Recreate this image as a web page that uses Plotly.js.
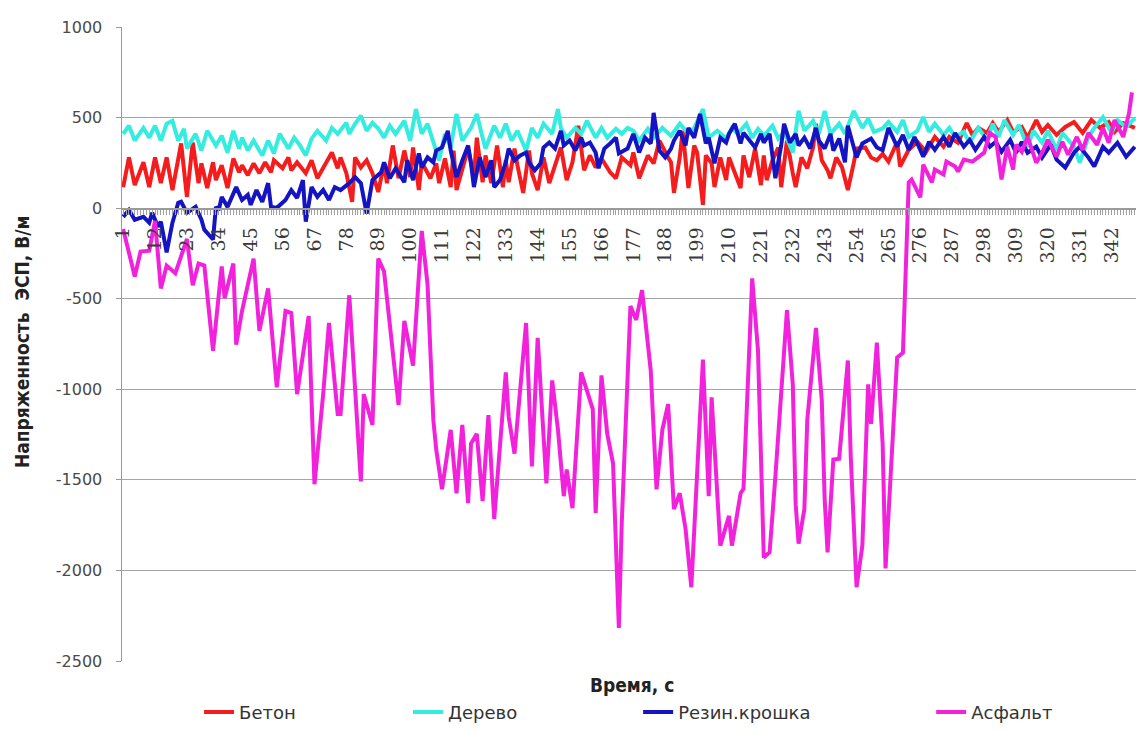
<!DOCTYPE html>
<html>
<head>
<meta charset="utf-8">
<script src="https://cdn.plot.ly/plotly-3.0.1.min.js"></script>
<style>html,body{margin:0;padding:0;background:#fff;}#chart{width:1136px;height:731px;}</style>
</head>
<body>
<div id="chart"></div>
<script>
// Series names
const seriesNames = ["Бетон", "Дерево", "Резин.крошка", "Асфальт"];

// Бетон (red)
const betonTime = [1,3,5,8,10,12,14,16,18,21,23,25,27,28,30,32,33,35,37,39,41,42,44,46,48,50,52,53,56,58,59,61,64,66,68,71,73,75,76,78,80,81,83,85,87,89,91,92,94,96,98,100,101,103,104,107,109,110,112,114,115,116,118,120,122,123,125,126,128,129,130,132,133,134,136,137,139,141,142,144,146,148,150,152,154,156,158,160,162,164,166,169,171,173,176,177,179,182,184,186,189,190,191,193,194,196,198,199,201,202,204,205,207,209,210,212,214,215,217,219,221,222,223,225,227,228,230,232,233,235,237,239,240,242,244,245,247,249,251,253,254,257,259,261,263,265,268,269,272,275,278,281,284,286,289,292,294,296,299,301,303,306,308,311,313,316,318,320,323,326,329,332,335,338,341,343,346,350];
const betonValue = [116,280,127,253,116,280,138,280,100,357,62,362,138,247,111,253,155,237,111,274,198,237,182,247,193,253,198,264,220,280,209,253,193,264,165,253,307,220,280,193,35,280,225,264,193,89,247,138,346,165,318,171,335,100,253,165,247,138,274,116,318,100,225,329,171,389,143,291,138,264,346,116,264,143,329,237,84,318,193,100,280,138,237,335,155,253,455,209,291,225,274,198,165,280,237,307,165,291,247,373,280,253,84,280,427,111,346,307,18,291,247,116,280,155,280,193,111,291,171,329,127,291,155,264,335,116,373,193,116,280,220,335,466,264,209,165,280,225,100,247,329,335,280,264,300,257,366,230,322,366,311,393,339,393,361,470,404,443,415,470,421,486,421,448,388,486,421,459,404,448,475,415,486,443,475,421,470,443];

// Дерево (cyan)
const derevoTime = [1,3,5,8,10,12,14,16,18,20,22,23,26,28,30,33,35,37,39,41,42,44,46,49,51,53,55,58,60,62,64,66,68,71,73,75,78,79,81,83,85,87,89,91,93,95,98,100,102,104,106,108,110,112,114,116,118,121,123,125,126,129,131,133,135,137,140,142,144,146,149,151,152,154,157,159,161,164,166,168,171,173,175,177,179,182,184,187,190,193,196,198,201,203,206,209,211,213,216,218,220,222,225,227,229,232,234,236,239,241,243,245,248,250,253,256,258,260,263,265,268,270,272,275,277,279,281,284,286,288,291,293,296,299,301,303,305,308,310,313,315,318,320,323,325,329,331,334,336,339,342,344,347,350];
const derevoValue = [410,455,373,443,389,455,373,466,482,373,438,329,410,318,427,346,400,307,427,329,389,318,373,291,373,302,410,329,389,346,291,384,427,373,443,410,471,410,466,510,427,471,440,389,455,410,482,373,547,410,466,373,264,410,335,520,373,443,520,389,329,455,389,466,373,427,318,443,389,466,410,547,443,389,443,410,482,389,443,389,438,410,443,427,373,438,389,443,400,466,410,443,547,389,427,384,443,410,466,389,438,400,455,384,421,307,537,427,482,410,537,410,466,410,537,443,493,421,440,475,421,486,393,427,503,421,466,404,443,393,421,361,443,377,466,393,486,404,459,339,427,361,427,322,415,339,251,393,443,503,415,486,448,497];

// Резин.крошка (blue)
const rezinTime = [1,3,5,8,10,11,13,14,16,18,20,21,23,26,28,29,32,33,34,35,37,40,42,44,45,47,49,51,52,54,57,59,61,63,64,66,68,70,72,74,76,79,81,83,85,87,90,91,93,95,98,99,101,103,104,106,108,109,111,113,114,116,118,120,121,122,124,126,128,129,131,133,134,136,138,140,141,143,145,146,148,150,152,153,155,157,159,160,162,164,165,167,169,171,172,175,177,179,181,183,184,186,188,190,191,193,195,196,198,200,202,203,205,207,209,210,212,214,215,217,219,221,222,224,226,228,229,231,233,234,236,238,240,241,243,245,246,248,250,251,253,254,256,259,261,263,265,268,270,272,274,277,279,281,284,286,288,291,293,295,298,300,302,304,307,309,311,313,316,318,321,323,326,329,331,334,336,339,341,344,347,350];
const rezinValue = [-48,-10,-64,-48,-80,-26,-102,-75,-244,-80,29,35,-26,7,-64,-119,-173,7,-10,62,7,116,45,73,18,100,35,138,7,2,45,100,56,155,-75,116,62,100,45,116,100,138,171,138,-30,155,198,253,165,220,143,264,155,302,225,280,253,318,335,427,318,171,264,346,247,116,280,171,264,116,155,253,329,264,291,307,253,209,247,335,362,329,427,346,373,318,389,346,362,307,220,329,357,389,302,329,410,307,389,357,526,318,280,329,373,427,346,443,389,520,357,389,247,389,362,410,466,357,416,373,335,410,362,410,165,346,466,362,410,346,389,329,443,373,329,410,318,384,253,455,335,280,357,384,335,320,443,339,404,322,393,284,366,322,393,339,415,339,377,322,393,339,366,311,377,306,366,306,339,279,350,268,224,306,339,279,230,339,306,361,284,339];

// Асфальт (magenta)
const asfaltTime = [1,5,7,10,12,14,16,19,23,25,27,29,32,35,36,39,40,42,46,48,51,54,57,59,61,65,67,70,72,75,76,79,83,84,87,89,91,92,96,98,101,104,106,108,109,111,114,116,118,120,121,123,125,127,129,133,134,136,140,142,144,147,149,151,153,154,156,159,163,164,166,168,170,172,173,176,178,180,183,185,187,189,191,193,195,197,201,203,204,207,210,211,214,215,218,220,222,224,226,230,232,233,234,236,237,240,242,243,244,246,248,251,252,254,256,258,259,261,263,264,268,270,271,272,273,276,277,280,281,284,285,288,289,291,294,298,300,302,304,306,308,309,311,313,316,318,320,323,325,327,330,332,334,337,339,341,343,346,348,349];
const asfaltValue = [-115,-377,-240,-235,-71,-443,-317,-360,-170,-426,-306,-317,-787,-322,-497,-306,-754,-568,-279,-678,-443,-989,-568,-579,-1027,-596,-1524,-1027,-634,-1136,-1136,-481,-1508,-1027,-1197,-279,-350,-497,-1087,-623,-869,-126,-420,-1169,-1333,-1552,-1224,-1574,-1197,-1628,-1300,-1246,-1617,-1142,-1716,-907,-1153,-1355,-634,-1426,-716,-1519,-951,-1224,-1590,-1443,-1656,-907,-1109,-1683,-923,-1246,-1410,-2317,-1738,-541,-617,-453,-896,-1552,-1224,-1082,-1661,-1574,-1770,-2093,-836,-1590,-1044,-1863,-1699,-1863,-1574,-1550,-388,-787,-1929,-1900,-1481,-563,-973,-1634,-1852,-1661,-1169,-661,-1060,-1606,-1901,-1388,-1383,-841,-1371,-2093,-1863,-973,-1191,-743,-1300,-1989,-825,-798,-300,142,158,60,240,142,213,186,257,230,202,268,257,306,415,393,158,339,213,350,311,393,251,306,377,284,366,295,393,322,415,350,443,361,486,393,525,639];

// Axis settings
const yTickValues = [-2500, -2000, -1500, -1000, -500, 0, 500, 1000];
const yTickLabels = ["-2500", "-2000", "-1500", "-1000", "-500", "0", "500", "1000"];
const xLabelledTicks = [1,12,23,34,45,56,67,78,89,100,111,122,133,144,155,166,177,188,199,210,221,232,243,254,265,276,287,298,309,320,331,342];
const xLastCategory = 350;
const yTitle = "Напряженность  ЭСП, В/м";
const xTitle = "Время, с";

// every category gets a tick mark, only every 11th one a label
const xTickVals = [];
const xTickText = [];
for (let c = 1; c <= xLastCategory; c++) {
  xTickVals.push(c);
  xTickText.push(xLabelledTicks.includes(c) ? String(c) : "");
}

const colors = ["#f41c1c", "#35ece0", "#1414c2", "#f222dc"];
const series = [
  [betonTime, betonValue],
  [derevoTime, derevoValue],
  [rezinTime, rezinValue],
  [asfaltTime, asfaltValue]
];
const legendIds = ["legend", "legend2", "legend3", "legend4"];

const traces = series.map((s, i) => ({
  type: "scatter",
  mode: "lines",
  x: s[0],
  y: s[1],
  name: seriesNames[i],
  line: {color: colors[i], width: 4},
  legend: legendIds[i],
  hoverinfo: "skip"
}));

const legendFont = {family: "DejaVu Sans", size: 18, color: "#333"};
const legendX = [0.076, 0.282, 0.509, 0.798];
const legendLayouts = {};
legendIds.forEach((id, i) => {
  legendLayouts[id] = {
    x: legendX[i], y: -0.081, xanchor: "left", yanchor: "middle",
    orientation: "h", bgcolor: "rgba(0,0,0,0)", borderwidth: 0,
    font: legendFont
  };
});

const layout = Object.assign({
  width: 1136, height: 731,
  margin: {l: 122, r: 0, t: 27, b: 64},
  paper_bgcolor: "#ffffff",
  plot_bgcolor: "#ffffff",
  showlegend: true,
  xaxis: {
    type: "linear",
    range: [0.6, 350.4],
    anchor: "free",
    position: 2500 / 3500,
    showgrid: false,
    zeroline: false,
    showline: true,
    linecolor: "#9a9a9a",
    linewidth: 1.5,
    tickmode: "array",
    tickvals: xTickVals,
    ticktext: xTickText,
    ticks: "outside",
    ticklen: 5,
    tickwidth: 1,
    tickcolor: "#a0a0a0",
    tickangle: -90,
    ticklabelstandoff: 5,
    tickfont: {family: "DejaVu Serif", size: 19, color: "#3a3a3a"},
    fixedrange: true
  },
  yaxis: {
    range: [-2500, 1000],
    tickmode: "array",
    tickvals: yTickValues,
    ticktext: yTickLabels,
    showgrid: true,
    gridcolor: "#a6a6a6",
    gridwidth: 1,
    zeroline: false,
    showline: true,
    linecolor: "#9a9a9a",
    linewidth: 1.5,
    ticks: "outside",
    ticklen: 5,
    tickcolor: "#9a9a9a",
    ticklabelstandoff: 10,
    tickfont: {family: "DejaVu Sans", size: 16, color: "#4a4a4a"},
    fixedrange: true
  },
  annotations: [
    {
      text: "<b>" + yTitle + "</b>", textangle: -90,
      xref: "paper", yref: "paper", x: -0.0986, y: 0.503,
      xanchor: "center", yanchor: "middle", showarrow: false,
      font: {family: "DejaVu Sans Condensed, DejaVu Sans", size: 19, color: "#222"}
    },
    {
      text: "<b>" + xTitle + "</b>",
      xref: "paper", yref: "paper", x: 0.503, y: -0.0375,
      xanchor: "center", yanchor: "middle", showarrow: false,
      font: {family: "DejaVu Sans Condensed, DejaVu Sans", size: 19, color: "#222"}
    }
  ]
}, legendLayouts);

Plotly.newPlot("chart", traces, layout, {staticPlot: true, displayModeBar: false});
</script>
</body>
</html>
